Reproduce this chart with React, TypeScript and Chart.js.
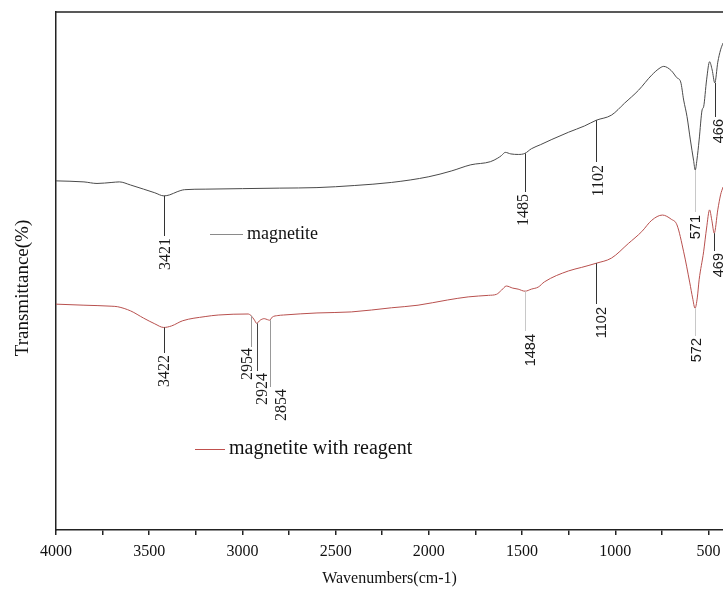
import React, { useEffect, useRef } from "react";
import { Chart, registerables } from "chart.js";

Chart.register(...registerables);

// ---------- data ----------
// wavenumbers in cm-1, transmittance in arbitrary % units
const magnetiteWn = [
  4000, 3850, 3780, 3700, 3660, 3600, 3530, 3470, 3421, 3390, 3350, 3310, 3200, 3000, 2800, 2600,
  2400, 2200, 2000, 1880, 1775, 1670, 1630, 1610, 1590, 1560, 1520, 1485, 1450, 1400, 1340, 1250,
  1165, 1102, 1020, 950, 875, 805, 760, 740, 700, 669, 649, 633, 615, 597, 580, 571, 562, 550, 534,
  526, 510, 494, 480, 466, 450, 435, 422,
];
const magnetiteT = [
  67.4, 67.2, 66.9, 67.1, 67.2, 66.6, 65.8, 65.1, 64.5, 64.7, 65.3, 65.7, 65.8, 65.9, 66.0, 66.1,
  66.5, 67.1, 68.2, 69.3, 70.5, 71.1, 71.8, 72.3, 72.9, 72.6, 72.5, 72.7, 73.6, 74.4, 75.4, 76.8,
  78.0, 79.1, 80.1, 82.4, 84.9, 87.8, 89.2, 89.5, 88.7, 87.3, 86.5, 83.0, 79.8, 75.3, 71.4, 69.5, 71.4, 75.3, 81.1,
  81.7, 86.9, 90.4, 88.8, 86.3, 90.3, 92.7, 94.0,
];
const reagentWn = [
  4000, 3850, 3700, 3669, 3600, 3530, 3470, 3422, 3380, 3320, 3200, 3130, 2970, 2954, 2935, 2924,
  2905, 2883, 2865, 2854, 2840, 2810, 2780, 2600, 2416, 2200, 2058, 1900, 1789, 1680, 1637, 1610,
  1584, 1550, 1521, 1484, 1450, 1413, 1380, 1252, 1180, 1102, 1020, 930, 858, 804, 747, 700, 669,
  633, 600, 585, 572, 560, 550, 526, 510, 494, 482, 469, 450, 435, 422,
];
const reagentT = [
  43.6, 43.4, 43.2, 43.1, 42.3, 40.9, 39.8, 39.1, 39.4, 40.4, 41.2, 41.5, 41.7, 41.4, 40.5, 39.9,
  40.5, 40.8, 40.6, 40.5, 41.1, 41.4, 41.5, 41.9, 42.1, 42.9, 43.4, 44.4, 45.0, 45.3, 45.5, 46.3,
  47.1, 46.7, 46.5, 46.1, 46.5, 46.9, 47.9, 50.0, 50.7, 51.5, 52.5, 55.3, 57.6, 59.8, 60.8, 60.0, 58.9,
  53.7, 47.7, 44.8, 42.8, 44.8, 48.3, 53.7, 58.3, 61.8, 59.8, 57.3, 61.8, 64.7, 66.2,
];
const seriesLabels = ["magnetite", "magnetite with reagent"];
const xTicks = [4000, 3750, 3500, 3250, 3000, 2750, 2500, 2250, 2000, 1750, 1500, 1250, 1000, 750, 500];
const magnetitePeaks = [3421, 1485, 1102, 571, 466];
const reagentPeaks = [3422, 2954, 2924, 2854, 1484, 1102, 572, 469];

// ---------- styles / layout ----------
const SERIF = "'Liberation Serif', 'Times New Roman', serif";
const SANS = "'Liberation Sans', Arial, sans-serif";
const lineColors = ["#4a4a4a", "#b8504e"];
const legendStyle = [
  { x: 210, y: 234, len: 33, color: "#8a8a8a", size: 18 },
  { x: 195, y: 449, len: 30, color: "#c0504d", size: 20 },
];
// per peak: line bottom (px), label top (px), label x shift, line colour, font kind
const magnetitePeakStyle = [
  { bottom: 236, top: 238, dx: 1, color: "#333", sans: false },
  { bottom: 192, top: 194, dx: -2, color: "#333", sans: false },
  { bottom: 162, top: 165, dx: 2, color: "#333", sans: false },
  { bottom: 212, top: 215, dx: 0, color: "#c8c8c8", sans: true },
  { bottom: 117, top: 119, dx: 3, color: "#333", sans: true },
];
const reagentPeakStyle = [
  { bottom: 353, top: 355, dx: 0, color: "#333", sans: false },
  { bottom: 347, top: 348, dx: -4, color: "#999", sans: false },
  { bottom: 371, top: 373, dx: 5, color: "#444", sans: false },
  { bottom: 387, top: 389, dx: 11, color: "#999", sans: false },
  { bottom: 331, top: 334, dx: 5, color: "#c8c8c8", sans: true },
  { bottom: 304, top: 307, dx: 5, color: "#333", sans: true },
  { bottom: 336, top: 338, dx: 1, color: "#c8c8c8", sans: true },
  { bottom: 251, top: 253, dx: 4, color: "#333", sans: true },
];

function valueAt(wn: number[], t: number[], x: number): number {
  for (let i = 0; i < wn.length - 1; i++) {
    const a = wn[i], b = wn[i + 1];
    if (x <= a && x >= b) {
      if (a === b) return t[i];
      return t[i] + ((t[i + 1] - t[i]) * (x - a)) / (b - a);
    }
  }
  return t[t.length - 1];
}

const overlayPlugin = {
  id: "overlay",
  afterDraw(chart: any) {
    const { ctx, chartArea, scales } = chart;
    const xs = scales.x;
    const ys = scales.y;
    ctx.save();
    // top frame line
    ctx.strokeStyle = "#222";
    ctx.lineWidth = 1.5;
    ctx.beginPath();
    ctx.moveTo(chartArea.left - 0.75, chartArea.top);
    ctx.lineTo(chartArea.right, chartArea.top);
    ctx.stroke();

    // peak annotations
    const groups = [
      { wn: magnetiteWn, t: magnetiteT, peaks: magnetitePeaks, style: magnetitePeakStyle },
      { wn: reagentWn, t: reagentT, peaks: reagentPeaks, style: reagentPeakStyle },
    ];
    groups.forEach((g) => {
      g.peaks.forEach((p, i) => {
        const st = g.style[i];
        const px = Math.round(xs.getPixelForValue(p)) + 0.5;
        const py = ys.getPixelForValue(valueAt(g.wn, g.t, p));
        ctx.strokeStyle = st.color;
        ctx.lineWidth = 1;
        ctx.beginPath();
        ctx.moveTo(px, py);
        ctx.lineTo(px, st.bottom);
        ctx.stroke();
        ctx.save();
        ctx.translate(px + st.dx, st.top);
        ctx.rotate(-Math.PI / 2);
        ctx.fillStyle = "#1a1a1a";
        ctx.font = st.sans ? `14.5px ${SANS}` : `16px ${SERIF}`;
        ctx.textAlign = "right";
        ctx.textBaseline = "middle";
        ctx.fillText(String(p), 0, 0);
        ctx.restore();
      });
    });

    // legends
    chart.data.datasets.forEach((ds: any, i: number) => {
      const L = legendStyle[i];
      ctx.strokeStyle = L.color;
      ctx.lineWidth = 1;
      ctx.beginPath();
      ctx.moveTo(L.x, L.y + 0.5);
      ctx.lineTo(L.x + L.len, L.y + 0.5);
      ctx.stroke();
      ctx.fillStyle = "#111";
      ctx.font = `${L.size}px ${SERIF}`;
      ctx.textAlign = "left";
      ctx.textBaseline = "middle";
      ctx.fillText(ds.label, L.x + L.len + 4, L.y);
    });

    // y axis title
    ctx.save();
    ctx.translate(23, 288);
    ctx.rotate(-Math.PI / 2);
    ctx.fillStyle = "#111";
    ctx.font = `19px ${SERIF}`;
    ctx.textAlign = "center";
    ctx.textBaseline = "middle";
    ctx.fillText("Transmittance(%)", 0, 0);
    ctx.restore();

    ctx.restore();
  },
};

export default function App() {
  const ref = useRef<HTMLCanvasElement | null>(null);
  useEffect(() => {
    if (!ref.current) return;
    const chart = new Chart(ref.current, {
      type: "line",
      data: {
        datasets: [
          {
            label: seriesLabels[0],
            data: magnetiteWn.map((x, i) => ({ x, y: magnetiteT[i] })),
            borderColor: lineColors[0],
            borderWidth: 1,
            pointRadius: 0,
            cubicInterpolationMode: "monotone",
          },
          {
            label: seriesLabels[1],
            data: reagentWn.map((x, i) => ({ x, y: reagentT[i] })),
            borderColor: lineColors[1],
            borderWidth: 1,
            pointRadius: 0,
            cubicInterpolationMode: "monotone",
          },
        ],
      },
      options: {
        animation: false,
        responsive: false,
        devicePixelRatio: 1,
        layout: { padding: { top: 12, left: 0, right: 0, bottom: 0 } },
        plugins: { legend: { display: false }, tooltip: { enabled: false } },
        scales: {
          x: {
            type: "linear",
            reverse: true,
            min: 422,
            max: 4000,
            afterBuildTicks: (s: any) => {
              s.ticks = xTicks.map((v) => ({ value: v }));
            },
            afterFit: (s: any) => {
              s.height = 66;
              s.paddingLeft = 0;
              s.paddingRight = 0;
            },
            grid: {
              display: true,
              drawOnChartArea: false,
              drawTicks: true,
              tickLength: 5,
              color: "#222",
              lineWidth: 1.5,
            },
            border: { display: true, color: "#222", width: 1.5 },
            ticks: {
              autoSkip: false,
              maxRotation: 0,
              minRotation: 0,
              padding: 7,
              color: "#111",
              font: { family: SERIF, size: 16 },
              callback: (v: any) => (Number(v) % 500 === 0 ? String(v) : ""),
            },
            title: {
              display: true,
              text: "Wavenumbers(cm-1)",
              color: "#111",
              font: { family: SERIF, size: 16 },
              padding: { top: 0, bottom: 8 },
            },
          },
          y: {
            min: 0,
            max: 100,
            afterFit: (s: any) => {
              s.width = 56;
            },
            ticks: { display: false },
            grid: { display: false, drawTicks: false },
            border: { display: true, color: "#222", width: 1.5 },
          },
        },
      },
      plugins: [overlayPlugin],
    } as any);
    return () => chart.destroy();
  }, []);
  return (
    <div style={{ position: "fixed", left: 0, top: 0, width: 723, height: 596, background: "#fff" }}>
      <canvas ref={ref} width={723} height={596} style={{ width: 723, height: 596, display: "block" }} />
    </div>
  );
}
